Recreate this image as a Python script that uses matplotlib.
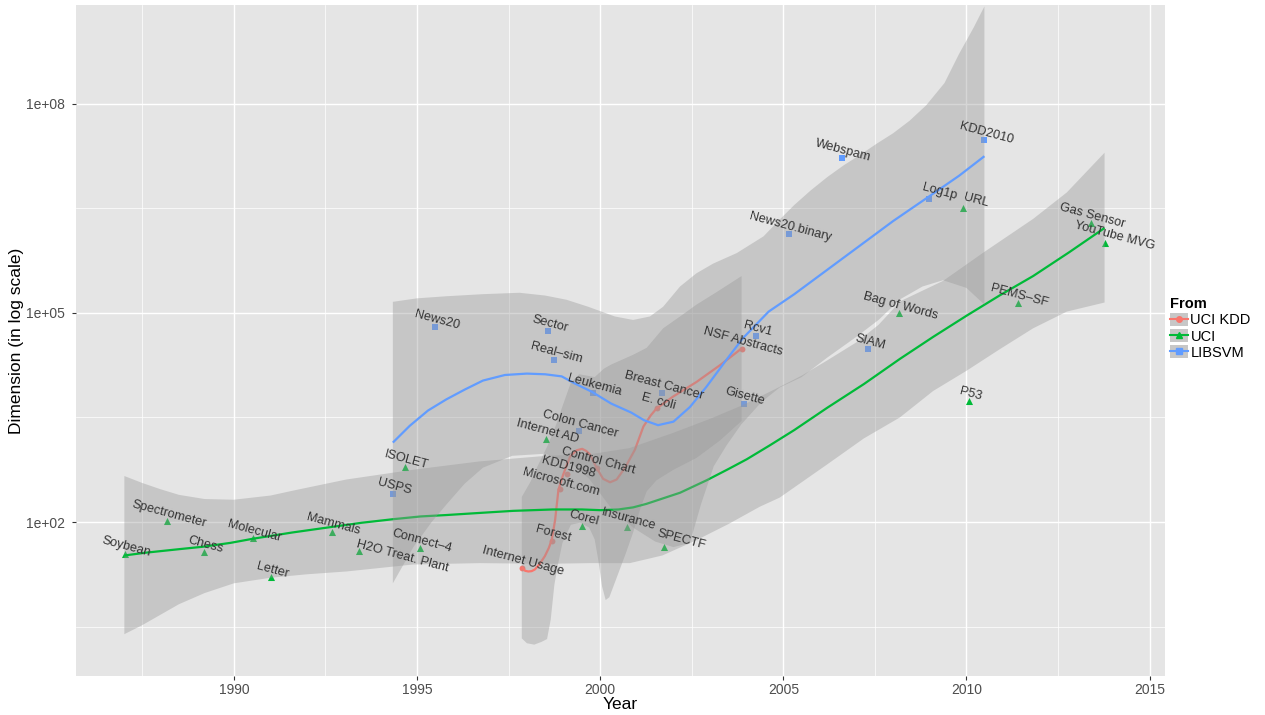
import numpy as np
import matplotlib.pyplot as plt
from matplotlib.lines import Line2D
from matplotlib.patches import Patch
from matplotlib.legend_handler import HandlerTuple

plt.rcParams['font.family'] = ['Liberation Sans', 'DejaVu Sans']

# Datasets: year released vs number of features
kdd_names = ['Internet Usage', 'Forest', 'Microsoft.com', 'KDD1998', 'Control Chart',
             'E. coli', 'NSF Abstracts']
kdd_year = [1997.86, 1998.68, 1998.90, 1999.09, 1999.92, 2001.54, 2003.86]
kdd_dim = [22, 54, 294, 481, 600, 4289, 30799]

uci_names = ['Soybean', 'Spectrometer', 'Chess', 'Molecular', 'Letter', 'Mammals',
             'H2O Treat. Plant', 'ISOLET', 'Connect–4', 'Internet AD', 'Corel', 'Insurance',
             'SPECTF', 'Bag of Words', 'URL', 'P53', 'PEMS–SF', 'Gas Sensor', 'YouTube MVG']
uci_year = [1987.02, 1988.18, 1989.19, 1990.51, 1991.01, 1992.68, 1993.42, 1994.68, 1995.09,
            1998.51, 1999.50, 2000.74, 2001.75, 2008.16, 2009.91, 2010.06, 2011.40, 2013.39,
            2013.77]
uci_dim = [35, 102, 37, 59, 16, 73, 38, 617, 42, 1558, 89, 86, 44, 100000, 3231961, 5409,
           138672, 1950000, 1000000]

lib_names = ['USPS', 'News20', 'Sector', 'Real–sim', 'Colon Cancer', 'Leukemia',
             'Breast Cancer', 'Gisette', 'Rcv1', 'News20.binary', 'Webspam', 'SIAM', 'Log1p',
             'KDD2010']
lib_year = [1994.35, 1995.50, 1998.58, 1998.75, 1999.42, 1999.80, 2001.70, 2003.92, 2004.25,
            2005.16, 2006.59, 2007.32, 2008.99, 2010.49]
lib_dim = [256, 62061, 55197, 20958, 2000, 7129, 7129, 5000, 47236, 1355191, 16609143, 30438,
           4272227, 29890095]

# loess smooths (log10 of dimension)
kdd_fit_year = [1997.86, 1997.95, 1998.04, 1998.13, 1998.22, 1998.35, 1998.49, 1998.6, 1998.68,
                1998.77, 1998.86, 1998.99, 1999.18, 1999.36, 1999.51, 1999.62, 1999.72, 1999.9,
                2000.08, 2000.27, 2000.45, 2000.68, 2000.95, 2001.18, 2001.38, 2001.54, 2001.99,
                2002.63, 2003.27, 2003.86]
kdd_fit = [1.354, 1.30, 1.29, 1.295, 1.32, 1.40, 1.51, 1.63, 1.75, 2.03, 2.46, 2.68, 2.94, 3.03,
           3.05, 3.02, 2.97, 2.78, 2.62, 2.57, 2.61, 2.78, 3.04, 3.37, 3.53, 3.63, 3.80, 4.01,
           4.25, 4.49]
kdd_hi_year = [1997.86, 1998.1, 1998.29, 1998.56, 1998.8, 1998.97, 1999.2, 1999.43, 1999.65,
               1999.85, 2000.1, 2000.3, 2000.6, 2000.9, 2001.27, 2001.72, 2002.18, 2002.63,
               2003.18, 2003.86]
kdd_hi = [2.36, 2.58, 2.80, 3.09, 3.40, 3.66, 4.0, 4.12, 4.10, 4.08, 4.20, 4.26, 4.33, 4.40,
          4.50, 4.78, 4.95, 5.12, 5.30, 5.53]
kdd_lo_year = [1997.86, 1998.0, 1998.2, 1998.4, 1998.55, 1998.65, 1998.75, 1998.84, 1998.97,
               1999.2, 1999.45, 1999.7, 1999.85, 1999.95, 2000.05, 2000.15, 2000.25, 2000.45,
               2000.7, 2000.9, 2001.1, 2001.27, 2001.54, 2002.0, 2002.63, 2003.27, 2003.86]
kdd_lo = [0.33, 0.26, 0.24, 0.28, 0.32, 0.6, 1.1, 1.37, 1.70, 1.96, 1.99, 1.92, 1.75, 1.45,
          1.08, 0.88, 0.92, 1.2, 1.55, 1.85, 2.2, 2.44, 2.6, 2.75, 2.92, 3.17, 3.45]

uci_fit_year = [1987.01, 1987.6, 1988.5, 1989.15, 1989.9, 1990.52, 1991.6, 1992.68, 1993.5,
                1994.34, 1995.1, 1995.8, 1996.7, 1997.62, 1998.7, 1999.5, 2000.0, 2000.5,
                2000.9, 2001.26, 2001.72, 2002.18, 2002.91, 2003.5, 2004.0, 2004.63, 2005.3,
                2006.2, 2007.2, 2008.18, 2009.1, 2010.0, 2010.9, 2011.82, 2012.8, 2013.77]
uci_fit = [1.52, 1.56, 1.61, 1.645, 1.70, 1.76, 1.85, 1.93, 1.99, 2.04, 2.08, 2.10, 2.13, 2.16,
           2.18, 2.18, 2.17, 2.18, 2.21, 2.26, 2.34, 2.42, 2.60, 2.76, 2.90, 3.10, 3.32, 3.64,
           3.98, 4.34, 4.66, 4.96, 5.25, 5.53, 5.87, 6.22]
uci_hi_year = [1987.01, 1987.5, 1988.0, 1988.5, 1989.2, 1990.0, 1991.0, 1991.7, 1993.07,
               1994.89, 1996.71, 1998.53, 1999.7, 2000.8, 2002.0, 2003.0, 2003.86, 2004.75,
               2005.5, 2006.2, 2007.0, 2007.6, 2008.2, 2009.36, 2010.47, 2011.82, 2012.74,
               2013.77]
uci_hi = [2.66, 2.56, 2.47, 2.39, 2.33, 2.32, 2.38, 2.46, 2.61, 2.75, 2.87, 2.95, 2.97, 3.06,
          3.28, 3.48, 3.67, 3.90, 4.1, 4.32, 4.58, 4.83, 5.17, 5.46, 5.87, 6.35, 6.73, 7.30]
uci_lo_year = [1987.01, 1987.5, 1988.0, 1988.5, 1989.2, 1990.0, 1991.0, 1992.0, 1993.07,
               1994.89, 1996.71, 1998.53, 1999.72, 2000.81, 2001.7, 2002.63, 2003.5, 2004.36,
               2004.9, 2006.18, 2007.2, 2008.18, 2009.09, 2010.0, 2010.91, 2011.82, 2012.74,
               2013.77]
uci_lo = [0.39, 0.52, 0.67, 0.82, 0.98, 1.12, 1.2, 1.25, 1.29, 1.39, 1.41, 1.40, 1.41, 1.41,
          1.52, 1.74, 1.97, 2.22, 2.35, 2.82, 3.2, 3.5, 3.88, 4.17, 4.48, 4.78, 5.02, 5.15]

lib_fit_year = [1994.34, 1994.8, 1995.3, 1995.8, 1996.3, 1996.8, 1997.4, 1998.0, 1998.5,
                1998.95, 1999.3, 1999.77, 2000.3, 2000.85, 2001.2, 2001.58, 2002.0, 2002.45,
                2002.9, 2003.45, 2003.9, 2004.6, 2005.3, 2006.2, 2007.1, 2008.0, 2009.0,
                2009.8, 2010.49]
lib_fit = [3.14, 3.38, 3.60, 3.76, 3.90, 4.03, 4.11, 4.13, 4.12, 4.09, 3.99, 3.87, 3.70, 3.57,
           3.46, 3.39, 3.44, 3.65, 3.94, 4.33, 4.64, 5.02, 5.27, 5.62, 5.97, 6.32, 6.68, 6.97,
           7.25]
lib_hi_year = [1994.34, 1995.0, 1995.8, 1996.8, 1997.8, 1998.5, 1999.08, 1999.67, 2000.4,
               2000.9, 2001.36, 2001.72, 2002.18, 2002.63, 2003.09, 2003.73, 2004.46, 2004.9,
               2005.3, 2005.75, 2006.2, 2006.65, 2007.1, 2007.55, 2008.0, 2008.45, 2008.9,
               2009.4, 2009.8, 2010.2, 2010.49]
lib_hi = [5.16, 5.21, 5.24, 5.27, 5.29, 5.25, 5.19, 5.09, 4.95, 4.90, 4.95, 5.09, 5.38, 5.57,
          5.71, 5.86, 6.10, 6.34, 6.55, 6.76, 6.95, 7.12, 7.27, 7.43, 7.58, 7.76, 7.98, 8.30,
          8.72, 9.10, 9.40]
lib_lo_year = [1994.34, 1994.9, 1995.4, 1995.8, 1996.3, 1996.8, 1997.6, 1998.5, 1999.2, 1999.7,
               2000.3, 2000.9, 2001.5, 2002.0, 2002.45, 2002.75, 2003.1, 2003.45, 2003.85,
               2004.4, 2004.9, 2005.5, 2006.2, 2007.0, 2007.6, 2008.2, 2008.8, 2009.36, 2010.0,
               2010.49]
lib_lo = [1.12, 1.64, 2.0, 2.25, 2.55, 2.78, 2.95, 2.98, 2.85, 2.62, 2.2, 1.92, 1.72, 1.64, 1.7,
          2.25, 2.8, 3.1, 3.4, 3.72, 3.93, 4.08, 4.36, 4.66, 4.9, 5.2, 5.38, 5.47, 5.36, 5.12]

year_ticks = [1990, 1995, 2000, 2005, 2010, 2015]
dim_ticks = [1e2, 1e5, 1e8]
dim_tick_labels = ['1e+02', '1e+05', '1e+08']

# a few labels sit off their point in the original
label_dx = {'H2O Treat. Plant': -3, 'SPECTF': 11, 'Log1p': 6.5, 'URL': 8, 'YouTube MVG': 6}
label_ha = {'H2O Treat. Plant': 'left'}

groups = [
    ('UCI KDD', '#F8766D', 'o', 18, kdd_names, kdd_year, kdd_dim,
     kdd_fit_year, kdd_fit, kdd_hi_year, kdd_hi, kdd_lo_year, kdd_lo),
    ('UCI', '#00BA38', '^', 26, uci_names, uci_year, uci_dim,
     uci_fit_year, uci_fit, uci_hi_year, uci_hi, uci_lo_year, uci_lo),
    ('LIBSVM', '#619CFF', 's', 18, lib_names, lib_year, lib_dim,
     lib_fit_year, lib_fit, lib_hi_year, lib_hi, lib_lo_year, lib_lo),
]

fig = plt.figure(figsize=(12.65, 7.15), dpi=100)
ax = fig.add_axes([76 / 1265, 39 / 715, 1089 / 1265, 671 / 715])
ax.set_facecolor('#E5E5E5')
for s in ax.spines.values():
    s.set_visible(False)

ax.set_yscale('log')

# points first, smooths drawn over them like geom_smooth does
for name, col, mk, size, names, yrs, dims, *_ in groups:
    ax.scatter(yrs, dims, marker=mk, s=size, color=col, linewidths=0, zorder=2)

for name, col, mk, size, names, yrs, dims, fy, f, hy, h, ly, l in groups:
    px = np.r_[hy, ly[::-1]]
    py = 10 ** np.r_[h, l[::-1]]
    ax.fill(px, py, color='#999999', alpha=0.4, lw=0, zorder=3)
    ax.plot(fy, 10 ** np.array(f), color=col, lw=1.6, zorder=3, solid_capstyle='butt')

for name, col, mk, size, names, yrs, dims, *_ in groups:
    for lab, x, y in zip(names, yrs, dims):
        ax.annotate(lab, (x, y), xytext=(label_dx.get(lab, 0), 1.0),
                    textcoords='offset points', rotation=-15, rotation_mode='anchor',
                    ha=label_ha.get(lab, 'center'), va='bottom', fontsize=9.2,
                    color='#333333', zorder=10)

ax.set_xlim(1985.69, 2015.42)
ax.set_ylim(10 ** -0.21, 10 ** 9.42)
ax.set_xticks(year_ticks)
ax.set_xticks([1987.5, 1992.5, 1997.5, 2002.5, 2007.5, 2012.5], minor=True)
ax.set_yticks(dim_ticks)
ax.set_yticklabels(dim_tick_labels)
ax.set_yticks([10 ** 0.5, 10 ** 3.5, 10 ** 6.5], minor=True)
ax.set_yticklabels([], minor=True)

ax.grid(which='major', color='white', lw=1.0)
ax.grid(which='minor', color='white', lw=0.5)
ax.set_axisbelow(True)
ax.tick_params(which='minor', length=0)
ax.tick_params(which='major', length=3, width=0.8, color='#333333',
               labelcolor='#4D4D4D', labelsize=10)
ax.tick_params(axis='x', pad=2)
ax.tick_params(axis='y', pad=5)

ax.set_xlabel('Year', fontsize=12.5, labelpad=0)
ax.set_ylabel('Dimension (in log scale)', fontsize=12.5, labelpad=1)

handles = [(Patch(facecolor='#C7C7C7', edgecolor='none'),
            Line2D([], [], color=c, lw=1.5, marker=m, ms=4))
           for _, c, m, *_ in groups]
labels = [g[0] for g in groups]
leg = fig.legend(handles, labels, title='From', loc='upper left',
                 bbox_to_anchor=(1170 / 1265, 1 - 297 / 715), frameon=False,
                 handler_map={tuple: HandlerTuple(ndivide=1, pad=0)},
                 handlelength=1.2, handleheight=1.0, handletextpad=0.2,
                 labelspacing=0.12, fontsize=10.5, borderpad=0, borderaxespad=0,
                 alignment='left', title_fontproperties={'weight': 'bold', 'size': 10.5})

fig.savefig('out.png', dpi=100)
